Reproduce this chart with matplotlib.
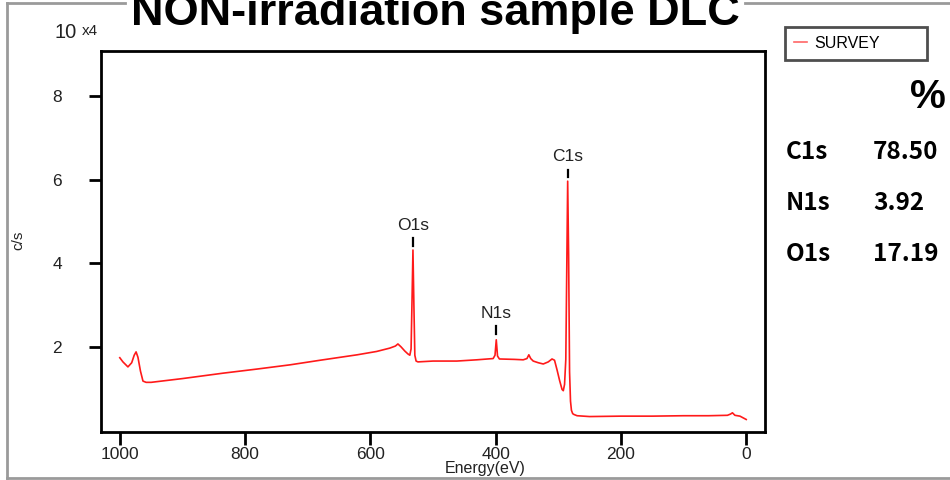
import matplotlib
matplotlib.use("Agg")
import matplotlib.pyplot as plt
from matplotlib.lines import Line2D

# survey spectrum (binding energy in eV, intensity in 10^4 c/s)
energy = [
    1000, 995, 987, 981, 977, 974, 971, 967, 963, 958, 950, 900, 835, 780, 728,
    680, 621, 590, 569, 560, 556, 551, 545, 540, 537, 535, 533.5, 532, 530.5,
    529, 527, 524, 500, 462, 430, 404, 401, 399, 397, 394, 370, 356, 350, 347,
    344, 340, 332, 324, 316, 310, 306, 302, 298, 294, 292, 290, 288, 286.5,
    285, 283.5, 282, 280.5, 279, 277, 275, 270, 250, 200, 150, 100, 60, 30,
    25, 22, 18, 10, 5, 0,
]
intensity = [
    1.74, 1.64, 1.52, 1.62, 1.80, 1.88, 1.75, 1.42, 1.18, 1.15, 1.15, 1.24, 1.37,
    1.47, 1.57, 1.68, 1.81, 1.89, 1.97, 2.02, 2.07, 2.00, 1.90, 1.83, 1.80, 1.95,
    3.10, 4.32, 3.00, 1.80, 1.66, 1.64, 1.66, 1.66, 1.69, 1.72, 1.80, 2.17, 1.78,
    1.71, 1.70, 1.69, 1.72, 1.81, 1.72, 1.66, 1.62, 1.59, 1.64, 1.71, 1.68, 1.45,
    1.20, 0.98, 0.95, 1.10, 1.70, 3.80, 5.97, 4.20, 1.40, 0.70, 0.48, 0.40, 0.38,
    0.35, 0.33, 0.34, 0.34, 0.35, 0.35, 0.36, 0.39, 0.42, 0.36, 0.34, 0.30, 0.26,
]

peak_names = ["C1s", "O1s", "N1s"]
peak_energy = [285, 532, 399]
peak_label_y = [6.55, 4.90, 2.79]

atomic_percent = ["78.50", "3.92", "17.19"]
table_rows = ["C1s", "N1s", "O1s"]

x_ticks = [1000, 800, 600, 400, 200, 0]
y_ticks = [2, 4, 6, 8]

W, H = 950, 480
fig = plt.figure(figsize=(9.5, 4.8), dpi=100)
ax = fig.add_axes([101 / W, 1 - 432 / H, (765 - 101) / W, (432 - 51) / H])

ax.plot(energy, intensity, color="#ff1a1a", linewidth=1.2, label="SURVEY")
ax.set_xlim(1030, -30)
ax.set_ylim(-0.04, 9.09)
ax.set_xticks(x_ticks)
ax.set_yticks(y_ticks)
ax.tick_params(axis="both", direction="out", length=9, width=2, labelsize=12.5,
               colors="black", labelcolor="#222222")
ax.tick_params(axis="y", pad=19)
ax.tick_params(axis="x", pad=2)
for label in ax.get_xticklabels() + ax.get_yticklabels():
    label.set_family("Liberation Sans")
for spine in ax.spines.values():
    spine.set_linewidth(2)

for name, e, y in zip(peak_names, peak_energy, peak_label_y):
    ax.text(e, y, name, ha="center", va="center", fontsize=12.5,
            family="Liberation Sans", color="#222222")
    ax.plot([e, e], [y - 0.30, y - 0.48], color="black", linewidth=1.6)

legend = fig.legend(
    handles=[Line2D([], [], color="#ff6666", linewidth=1.2)],
    labels=["SURVEY"],
    loc="upper left",
    bbox_to_anchor=(785 / W, 1 - 62 / H, 142 / W, 35 / H),
    mode="expand",
    borderaxespad=0,
    handlelength=0.8,
    handletextpad=0.5,
    borderpad=0.55,
    fancybox=False,
    prop={"family": "Liberation Sans", "size": 11.5},
)
legend.get_frame().set_edgecolor("#222222")
legend.get_frame().set_linewidth(2)

fig.text(435 / W, 1 - 13 / H, "NON-irradiation sample DLC", ha="center",
         va="center", fontsize=32.5, fontweight="bold", family="Liberation Sans")
fig.text(66 / W, 1 - 33 / H, "10", ha="center", va="center", fontsize=14.5,
         family="Liberation Sans", color="#222222")
fig.text(90 / W, 1 - 31 / H, "x4", ha="center", va="center", fontsize=11,
         family="Liberation Sans", color="#222222")
fig.text(18 / W, 1 - 240 / H, "c/s", ha="center", va="center", rotation=90,
         fontsize=11, family="Liberation Sans", color="#222222")
fig.text(485 / W, 1 - 469 / H, "Energy(eV)", ha="center", va="center",
         fontsize=11.5, family="Liberation Sans", color="#222222")

fig.text(928 / W, 1 - 97 / H, "%", ha="center", va="center", fontsize=29,
         fontweight="bold", family="Liberation Sans", color="black")
for i, (row, value) in enumerate(zip(table_rows, atomic_percent)):
    y = 1 - (152 + 51 * i) / H
    fig.text(786 / W, y, row, ha="left", va="center", fontsize=17.5,
             fontweight="heavy", family="Noto Sans CJK SC")
    fig.text(873 / W, y, value, ha="left", va="center", fontsize=17.5,
             fontweight="heavy", family="Noto Sans CJK SC")

# outer gray frame, broken under the title
frame = dict(color="#9a9a9a", linewidth=2, transform=fig.transFigure)
fig.add_artist(Line2D([7 / W, 7 / W], [1 - 3 / H, 1 - 478 / H], **frame))
fig.add_artist(Line2D([7 / W, 125 / W], [1 - 3 / H, 1 - 3 / H], **frame))
fig.add_artist(Line2D([745 / W, 1], [1 - 3 / H, 1 - 3 / H], **frame))
fig.add_artist(Line2D([7 / W, 1], [1 - 478 / H, 1 - 478 / H], **frame))

fig.savefig("out.png", dpi=100)
